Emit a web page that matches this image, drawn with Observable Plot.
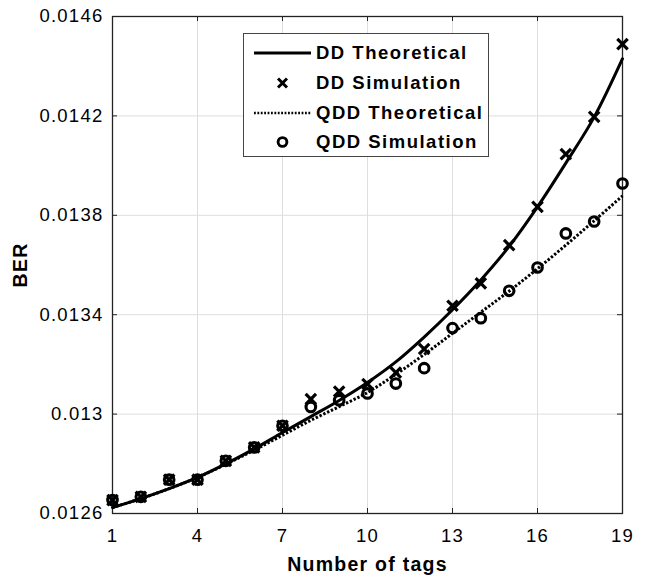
<!DOCTYPE html>
<html>
<head>
<meta charset="utf-8">
<script src="https://cdn.jsdelivr.net/npm/d3@7"></script>
<script src="https://cdn.jsdelivr.net/npm/@observablehq/plot@0.6"></script>
<style>
  body { margin: 0; background: #fff; }
  #wrap { position: relative; width: 657px; height: 580px; font-family: "Liberation Sans", Arial, sans-serif; }
  #legend { position: absolute; left: 243px; top: 33px; width: 246px; height: 124px; border: 1.3px solid #444; background: #fff; box-sizing: border-box; }
  .row { position: absolute; left: 0; height: 24px; display: flex; align-items: center; }
  .row svg { width: 62px; height: 24px; margin-left: 8px; }
  .row span { font-weight: bold; font-size: 18.5px; letter-spacing: 1.5px; margin-left: 2px; color: #000; white-space: nowrap; }
</style>
</head>
<body>
<div id="wrap"></div>
<script>
const tags = [1,2,3,4,5,6,7,8,9,10,11,12,13,14,15,16,17,18,19];
const ddTheory  = [0.012624,0.012660,0.012700,0.012745,0.012800,0.012860,0.012926,0.012990,0.013055,0.013127,0.013210,0.013310,0.013420,0.013540,0.013675,0.013834,0.014010,0.014195,0.014430];
const ddSim     = [0.012654,0.012667,0.012736,0.012736,0.012812,0.012866,0.012953,0.013060,0.013091,0.013121,0.013167,0.013262,0.013436,0.013526,0.013680,0.013834,0.014046,0.014196,0.014489];
const qddTheory = [0.012624,0.012660,0.012700,0.012745,0.012798,0.012855,0.012915,0.012975,0.013030,0.013087,0.013160,0.013240,0.013325,0.013410,0.013495,0.013585,0.013680,0.013778,0.013878];
const qddSim    = [0.012654,0.012667,0.012736,0.012736,0.012812,0.012866,0.012953,0.013029,0.013056,0.013083,0.013123,0.013185,0.013346,0.013386,0.013496,0.013590,0.013727,0.013775,0.013928];
const xTicks = [1,4,7,10,13,16,19];
const yTicks = [0.0126,0.013,0.0134,0.0138,0.0142,0.0146];
const legendLabels = ["DD Theoretical","DD Simulation","QDD Theoretical","QDD Simulation"];

const rows = (ys) => tags.map((t,i) => ({x: t, y: ys[i]}));

const W = 657, H = 580;
const mL = 112, mR = 35, mT = 16, mB = 67;
const plotH = H - mT - mB, plotW = W - mL - mR;

const chart = Plot.plot({
  width: W, height: H,
  marginLeft: mL, marginRight: mR, marginTop: mT, marginBottom: mB,
  style: {fontFamily: "Liberation Sans, Arial, sans-serif", fontSize: "18.5px", letterSpacing: "1.25px", color: "#000", background: "#fff"},
  x: {domain: [1,19], ticks: xTicks, tickFormat: d => String(d), label: null},
  y: {domain: [0.0126,0.0146], ticks: yTicks, tickFormat: d => String(d), label: null},
  marks: [
    Plot.gridX(xTicks, {stroke: "#dedede", strokeOpacity: 1, strokeWidth: 1}),
    Plot.gridY(yTicks, {stroke: "#dedede", strokeOpacity: 1, strokeWidth: 1}),
    Plot.axisX(xTicks, {tickSize: 0, tickPadding: 15, fontSize: 18.5, tickFormat: d => String(d)}),
    Plot.axisY(yTicks, {tickSize: 0, tickPadding: 9, fontSize: 18.5, tickFormat: d => String(d)}),
    Plot.tickX(xTicks, {x: d => d, insetTop: plotH - 5, stroke: "#222", strokeWidth: 1}),
    Plot.tickX(xTicks, {x: d => d, insetBottom: plotH - 5, stroke: "#222", strokeWidth: 1}),
    Plot.tickY(yTicks, {y: d => d, insetRight: plotW - 5, stroke: "#222", strokeWidth: 1}),
    Plot.tickY(yTicks, {y: d => d, insetLeft: plotW - 5, stroke: "#222", strokeWidth: 1}),
    Plot.frame({stroke: "#222", strokeWidth: 1.3}),
    Plot.line(rows(ddTheory), {x: "x", y: "y", stroke: "#000", strokeWidth: 3, curve: "catmull-rom"}),
    Plot.line(rows(qddTheory), {x: "x", y: "y", stroke: "#000", strokeWidth: 3, strokeDasharray: "2.4,1.8", strokeLinecap: "butt", curve: "catmull-rom"}),
    Plot.dot(rows(ddSim), {x: "x", y: "y", symbol: "times", r: 4.8, stroke: "#000", strokeWidth: 3.2}),
    Plot.dot(rows(qddSim), {x: "x", y: "y", symbol: "circle", r: 4.8, stroke: "#000", strokeWidth: 3.1, fill: "none"}),
    Plot.text(["Number of tags"], {frameAnchor: "bottom", dy: 51, text: d => d, fontWeight: "bold", fontSize: 19.5, textAnchor: "middle", lineAnchor: "middle"}),
    Plot.text(["BER"], {frameAnchor: "left", dx: -92, rotate: -90, text: d => d, fontWeight: "bold", fontSize: 19.5, textAnchor: "middle", lineAnchor: "middle"})
  ]
});

const wrap = document.getElementById("wrap");
wrap.appendChild(chart);

const legend = document.createElement("div");
legend.id = "legend";
const samples = [
  '<line x1="2" y1="12" x2="59" y2="12" stroke="#000" stroke-width="3"/>',
  '<path d="M26,7.5L35,16.5M35,7.5L26,16.5" stroke="#000" stroke-width="3" fill="none"/>',
  '<line x1="2" y1="12" x2="59" y2="12" stroke="#000" stroke-width="2.6" stroke-dasharray="1.8,1.6"/>',
  '<circle cx="30.5" cy="12" r="4.4" stroke="#000" stroke-width="2.9" fill="none"/>'
];
const tops = [7, 36.5, 66.5, 95.5];
legendLabels.forEach((lab, i) => {
  const r = document.createElement("div");
  r.className = "row";
  r.style.top = tops[i] + "px";
  r.innerHTML = '<svg viewBox="0 0 62 24">' + samples[i] + '</svg><span>' + lab + '</span>';
  legend.appendChild(r);
});
wrap.appendChild(legend);
</script>
</body>
</html>
